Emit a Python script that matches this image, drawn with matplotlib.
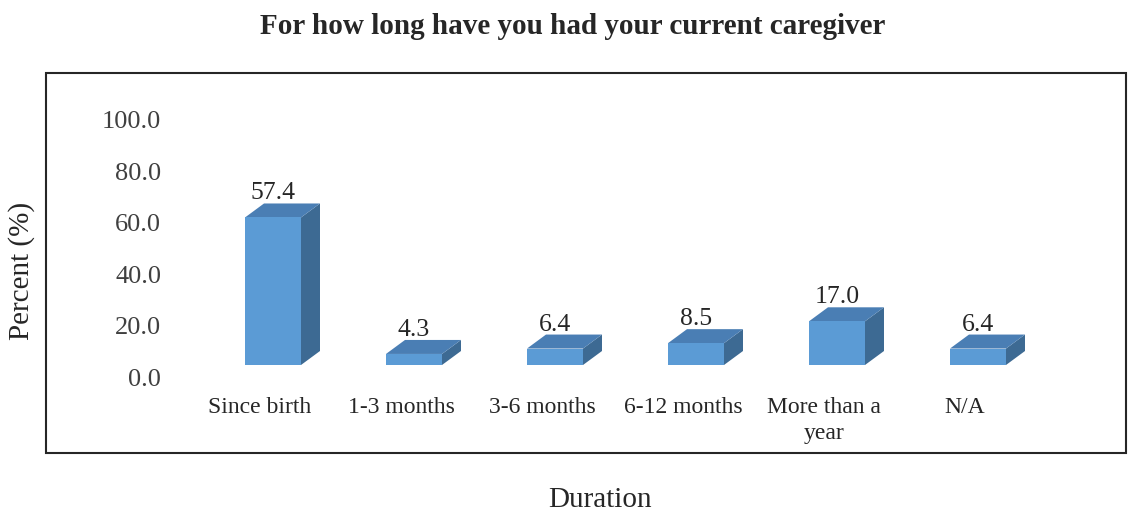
import matplotlib.pyplot as plt
from matplotlib.patches import Polygon, Rectangle
import numpy as np

plt.rcParams['font.family'] = ['Liberation Serif', 'DejaVu Serif']

# data
categories = ['Since birth', '1-3 months', '3-6 months', '6-12 months', 'More than a\nyear', 'N/A']
values = [57.4, 4.3, 6.4, 8.5, 17.0, 6.4]
yticks = [0, 20, 40, 60, 80, 100]

W, H = 1128, 512
fig = plt.figure(figsize=(W / 100, H / 100), dpi=100)

# plot area in pixels (0 at y=377, 100 at y=120)
ax_left, ax_right = 175, 1110
ax_bottom, ax_top = 377, 120
ax = fig.add_axes([ax_left / W, (H - ax_bottom) / H,
                   (ax_right - ax_left) / W, (ax_bottom - ax_top) / H])

x = np.arange(len(categories))
spacing = 141.0  # px per category
x0_px = 273 - ax_left  # first category center in axes px
xlim = (-x0_px / spacing, -x0_px / spacing + (ax_right - ax_left) / spacing)
ax.set_xlim(*xlim)
ax.set_ylim(0, 100)

# pixel -> data scale
px_x = (xlim[1] - xlim[0]) / (ax_right - ax_left)
px_y = 100.0 / (ax_bottom - ax_top)

width = 56 * px_x
lift = 12 * px_y          # front face raised above baseline
dx, dy = 19 * px_x, 14 * px_y  # depth offset

front_c = '#5b9bd5'
top_c = '#4a7eb4'
side_c = '#3d6a93'

for xi, v in zip(x, values):
    xl, xr = xi - width / 2, xi + width / 2
    yb, yt = lift, lift + v
    ax.add_patch(Polygon([(xr, yb), (xr + dx, yb + dy), (xr + dx, yt + dy), (xr, yt)],
                         closed=True, facecolor=side_c, edgecolor='none', clip_on=False))
    ax.add_patch(Polygon([(xl, yt), (xr, yt), (xr + dx, yt + dy), (xl + dx, yt + dy)],
                         closed=True, facecolor=top_c, edgecolor='none', clip_on=False))
    ax.add_patch(Rectangle((xl, yb), width, v, facecolor=front_c, edgecolor='none', clip_on=False))
    ax.text(xi, yt + dy - 1 * px_y, f'{v:.1f}', ha='center', va='bottom',
            fontsize=18.5, color='#262626', clip_on=False)

# category labels
for xi, c in zip(x, categories):
    ax.text(xi - 13 * px_x, -20 * px_y, c, ha='center', va='top', fontsize=17,
            color='#262626', linespacing=1.3, clip_on=False)

ax.set_yticks(yticks)
ax.set_yticklabels([f'{t:.1f}' for t in yticks], fontsize=19, color='#404040')
ax.tick_params(axis='y', length=0, pad=10)
ax.set_xticks([])
for s in ax.spines.values():
    s.set_visible(False)
ax.patch.set_visible(False)

# outer frame
fig.patches.append(Rectangle((46 / W, (H - 453) / H), (1126 - 46) / W, (453 - 73) / H,
                             transform=fig.transFigure, fill=False,
                             edgecolor='#262626', linewidth=1.5))

fig.text(573 / W, 1 - 26 / H, 'For how long have you had your current caregiver',
         ha='center', va='center', fontsize=21, fontweight='bold', color='#262626')
fig.text(22 / W, 1 - 271 / H, 'Percent (%)', rotation=90, ha='center', va='center',
         fontsize=21, color='#262626')
fig.text(600 / W, 1 - 500 / H, 'Duration', ha='center', va='center',
         fontsize=21, color='#262626')

plt.savefig('out.png', dpi=100)
